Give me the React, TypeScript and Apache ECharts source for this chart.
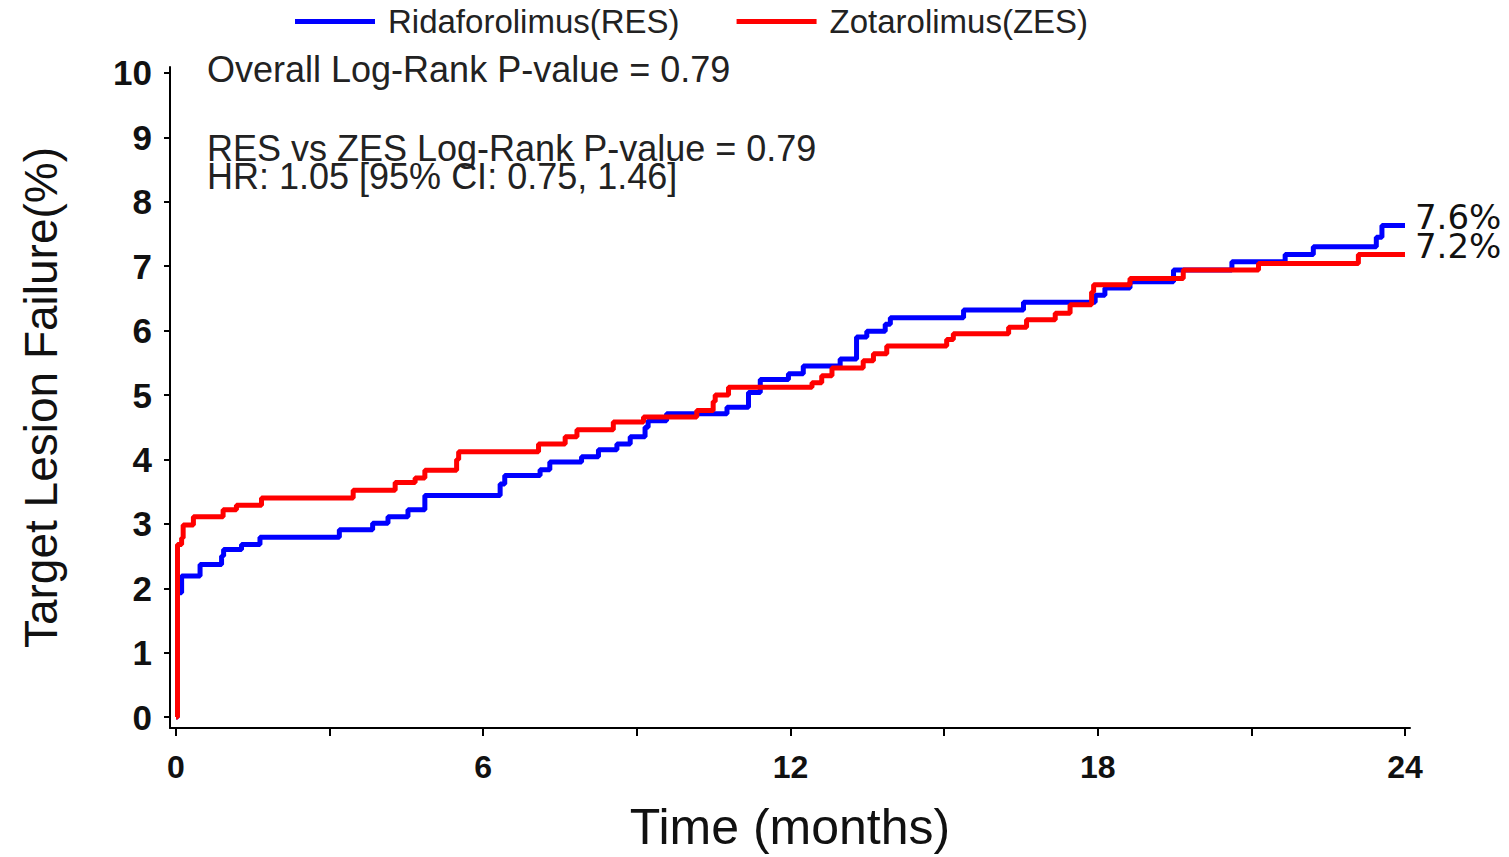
import React, { useEffect, useRef } from "react";
import * as echarts from "echarts";

const seriesNames = ["Ridaforolimus(RES)", "Zotarolimus(ZES)"];
const seriesColors = ["#0000ff", "#ff0000"];
const endLabels = ["7.6%", "7.2%"];

// [month, cumulative failure %] — value holds from that month onward
const resSteps: [number, number][] = [
  [0, 0], [0.03, 1.93], [0.11, 2.19], [0.47, 2.37], [0.89, 2.5], [0.93, 2.6],
  [1.28, 2.68], [1.64, 2.79], [3.19, 2.91], [3.84, 3.01], [4.14, 3.11],
  [4.53, 3.22], [4.86, 3.44], [6.33, 3.62], [6.42, 3.75], [7.11, 3.84],
  [7.3, 3.96], [7.92, 4.04], [8.25, 4.15], [8.61, 4.24], [8.87, 4.35],
  [9.16, 4.5], [9.22, 4.6], [9.58, 4.71], [10.76, 4.81], [11.18, 5.04],
  [11.41, 5.24], [11.96, 5.33], [12.25, 5.45], [12.97, 5.56], [13.29, 5.9],
  [13.49, 5.99], [13.85, 6.1], [13.95, 6.2], [15.38, 6.32], [16.55, 6.44],
  [17.95, 6.55], [18.14, 6.66], [18.63, 6.76], [19.48, 6.94], [20.62, 7.07],
  [21.66, 7.18], [22.21, 7.3], [23.44, 7.45], [23.55, 7.63], [24.0, 7.63],
];

const zesSteps: [number, number][] = [
  [0, 0], [0.03, 2.68], [0.11, 2.78], [0.14, 2.98], [0.34, 3.11], [0.92, 3.22],
  [1.18, 3.29], [1.67, 3.4], [3.46, 3.52], [4.28, 3.64], [4.67, 3.71],
  [4.86, 3.83], [5.48, 4.0], [5.52, 4.12], [7.08, 4.24], [7.6, 4.35],
  [7.83, 4.46], [8.54, 4.58], [9.13, 4.66], [10.17, 4.76], [10.49, 4.9],
  [10.53, 5.0], [10.79, 5.12], [12.42, 5.19], [12.61, 5.3], [12.81, 5.42],
  [13.42, 5.53], [13.62, 5.64], [13.88, 5.76], [15.05, 5.86], [15.18, 5.95],
  [16.26, 6.05], [16.61, 6.17], [17.17, 6.27], [17.46, 6.4], [17.88, 6.6],
  [17.92, 6.71], [18.63, 6.81], [19.67, 6.94], [21.14, 7.04], [23.09, 7.18],
  [24.0, 7.18],
];

const xTicks = [0, 3, 6, 9, 12, 15, 18, 21, 24];
const xLabels = [0, 6, 12, 18, 24];
const yTicks = [0, 1, 2, 3, 4, 5, 6, 7, 8, 9, 10];

const annotations = [
  "Overall Log-Rank P-value = 0.79",
  "RES vs ZES Log-Rank P-value = 0.79",
  "HR: 1.05 [95% CI: 0.75, 1.46]",
];

export default function App() {
  const ref = useRef<HTMLDivElement>(null);

  useEffect(() => {
    if (!ref.current) return;
    const chart = echarts.init(ref.current, undefined, { renderer: "svg" });
    const font = "'Liberation Sans', Arial, sans-serif";
    const makeSeries = (i: number, data: [number, number][]) => ({
      name: seriesNames[i],
      type: "line",
      step: "end",
      data,
      showSymbol: false,
      symbol: "none",
      lineStyle: { color: seriesColors[i], width: 5 },
      itemStyle: { color: seriesColors[i] },
      z: i === 0 ? 2 : 3,
      endLabel: {
        show: true,
        formatter: () => endLabels[i],
        fontFamily: "'DejaVu Sans', sans-serif",
        fontSize: 34,
        lineHeight: 26,
        color: "#111",
        offset: [2, -9],
      },
    });

    const annoTop = [51, 130, 158];

    chart.setOption({
      animation: false,
      backgroundColor: "#ffffff",
      textStyle: { fontFamily: font },
      legend: {
        left: 290,
        top: 0,
        itemWidth: 80,
        itemHeight: 5,
        itemGap: 57,
        icon: "rect",
        textStyle: {
          fontFamily: font,
          fontSize: 33,
          color: "#222",
          padding: [0, 0, 0, 8],
        },
        data: seriesNames.map((n, i) => ({ name: n, itemStyle: { color: seriesColors[i] } })),
      },
      grid: { left: 170, right: 99, top: 67, bottom: 124, containLabel: false },
      xAxis: {
        type: "value",
        min: -0.117,
        max: 24.098,
        name: "Time (months)",
        nameLocation: "middle",
        nameGap: 74,
        nameTextStyle: { fontFamily: font, fontSize: 50, color: "#111" },
        axisLine: { show: true, onZero: false, lineStyle: { color: "#000", width: 2 } },
        axisTick: { show: true, length: 8, customValues: xTicks, lineStyle: { color: "#000", width: 2 } },
        axisLabel: {
          customValues: xLabels,
          margin: 23,
          fontFamily: font,
          fontWeight: "bold",
          fontSize: 32,
          color: "#111",
        },
        splitLine: { show: false },
      },
      yAxis: {
        type: "value",
        min: -0.1695,
        max: 10.092,
        name: "Target Lesion Failure(%)",
        nameLocation: "middle",
        nameGap: 106,
        nameTextStyle: { fontFamily: font, fontSize: 46, color: "#111" },
        axisLine: { show: true, onZero: false, lineStyle: { color: "#000", width: 2 } },
        axisTick: { show: true, length: 6, customValues: yTicks, lineStyle: { color: "#000", width: 2 } },
        axisLabel: {
          customValues: yTicks,
          margin: 18,
          fontFamily: font,
          fontWeight: "bold",
          fontSize: 35,
          color: "#111",
        },
        splitLine: { show: false },
      },
      graphic: annotations.map((t, i) => ({
        type: "text",
        left: 207,
        top: annoTop[i],
        style: { text: t, font: `36px ${font}`, lineHeight: 26, fill: "#222" },
      })),
      series: [makeSeries(0, resSteps), makeSeries(1, zesSteps)],
    });
    return () => chart.dispose();
  }, []);

  return (
    <div
      ref={ref}
      style={{ position: "fixed", left: 0, top: 0, width: 1509, height: 857, background: "#fff" }}
    />
  );
}
